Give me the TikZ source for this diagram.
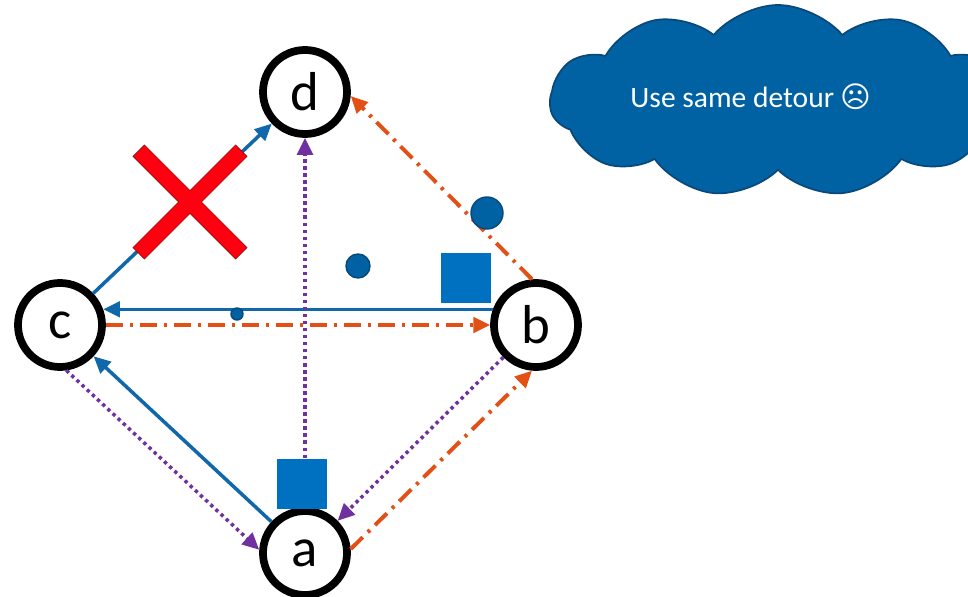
\documentclass[tikz,border=0pt]{standalone}
\usepackage{fontspec}
\setmainfont{Carlito}
\newfontfamily\symfont{DejaVu Sans}
\usepackage{tikz}
\usetikzlibrary{arrows.meta}
\usetikzlibrary{shapes.symbols}

\definecolor{lineblue}{RGB}{16,103,170}
\definecolor{boxblue}{RGB}{0,112,192}
\definecolor{dotblue}{RGB}{0,98,163}
\definecolor{dotrim}{RGB}{10,72,122}
\definecolor{detourorange}{RGB}{226,80,22}
\definecolor{loopurple}{RGB}{112,48,160}
\definecolor{crossred}{RGB}{255,0,16}
\definecolor{crossrim}{RGB}{150,10,10}

\begin{document}
\begin{tikzpicture}[x=0.025cm, y=-0.025cm,
	router/.style={circle, draw=black, line width=5.5pt, fill=white, minimum size=2.1cm, inner sep=0pt, font=\fontsize{39}{41}\selectfont},
	tipped/.style={-{Triangle[length=12pt,width=11pt]}},
	linkpath/.style={tipped, draw=lineblue, line width=2.5pt},
	detourpath/.style={tipped, draw=detourorange, line width=2.8pt, dash pattern=on 12pt off 5pt on 2.2pt off 5pt},
	looppath/.style={tipped, draw=loopurple, line width=2.5pt, dash pattern=on 2.4pt off 2.6pt},
	box/.style={rectangle, fill=boxblue, minimum size=1.25cm, inner sep=0pt},
	dot/.style={circle, fill=dotblue, draw=dotrim, line width=1pt, inner sep=0pt},
	xbar/.style={rectangle, fill=crossred, draw=crossrim, line width=1.2pt, minimum width=3.6cm, minimum height=0.38cm, inner sep=0pt}]
	\useasboundingbox (0,0) rectangle (968,597);

	% the cloud, cut at the right edge
	\begin{scope}
		\clip (0,0) rectangle (968,597);
		\node[cloud, cloud puffs=11, cloud puff arc=100, cloud ignores aspect, minimum width=11.4cm, minimum height=4.8cm, fill=dotblue, draw=dotrim, line width=1.2pt] (sky) at (778,101) {};
	\end{scope}
	\node[text=white, font=\fontsize{21}{23}\selectfont] (note) at (751,97) {Use same detour {\symfont ☹}};

	% routers
	\node[router] (d) at (305,92) {d};
	\node[router] (c) at (60,325) {c};
	\node[router] (b) at (536,325) {b};
	\node[router] (a) at (305,553) {a};

	\draw[linkpath] (a) -- (c);
	\draw[linkpath] (c) -- (d);
	\draw[linkpath] (b.160) -- (c.20);

	\draw[detourpath] (c) -- (b);
	\draw[detourpath] (b.95) -- (d.-5);
	\draw[detourpath] (a.5) -- (b.265);

	\draw[looppath] (a) -- (d);
	\draw[looppath] (c.-82) -- (a.176);
	\draw[looppath] (b) -- (a);

	% packets
	\node[box] (pktb) at (466,278) {};
	\node[box] (pkta) at (302,484) {};
	\node[dot, minimum size=0.8cm] (bigdot) at (487,213) {};
	\node[dot, minimum size=0.6cm] (middot) at (358,266) {};
	\node[dot, minimum size=0.3cm] (smalldot) at (237,314) {};

	% broken link
	\node[xbar, rotate=45] (cross1) at (190,202) {};
	\node[xbar, rotate=-45] (cross2) at (190,202) {};
	\node[xbar, draw=none, rotate=45] at (190,202) {};
	\node[xbar, draw=none, rotate=-45] at (190,202) {};
\end{tikzpicture}
\end{document}
